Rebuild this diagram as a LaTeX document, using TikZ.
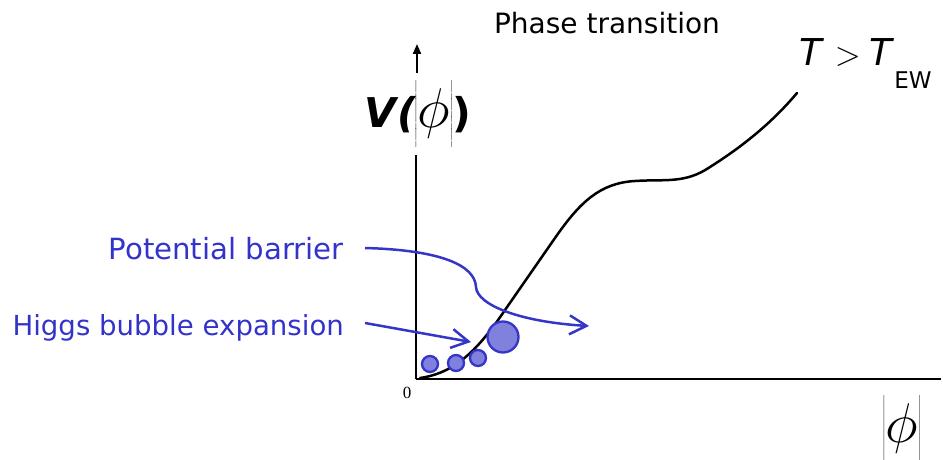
\RequirePackage{fix-cm}
\documentclass[tikz,border=0pt]{standalone}
\usepackage{fontspec}
\setmainfont{DejaVu Sans}
\newfontfamily\serifzero{Liberation Serif}
\usetikzlibrary{arrows.meta}
\definecolor{bltext}{HTML}{3333CC}
\definecolor{blline}{HTML}{3535C8}
\definecolor{blfill}{HTML}{8080DD}
\tikzset{
  axisline/.style={line width=2.2pt, black},
  potcurve/.style={line width=2.5pt, black, line cap=round},
  bluearrow/.style={line width=2.5pt, blline, -{Straight Barb[length=17pt,width=19pt,line width=2.5pt]}},
  bubble/.style={circle, draw=blline, fill=blfill, line width=2.3pt, inner sep=0pt},
  bluelabel/.style={text=bltext, inner sep=0pt, anchor=east},
}
\newcommand{\absphi}{{\fontsize{56}{56}\selectfont$\left|\rule[-19pt]{0pt}{63pt}\phi\right|$}}
\begin{document}
\begin{tikzpicture}[x=1pt,y=-1pt]
\useasboundingbox (0,0) rectangle (943,460);
% axes
\coordinate (O) at (416,379);
\coordinate (xend) at (941,379);
\coordinate (ytop) at (416,155);
\coordinate (arrb) at (417,73);
\coordinate (arrt) at (417,44);
\draw[axisline] (O) -- (xend);
\draw[axisline] (O) -- (ytop);
\draw[line width=2pt, -{Triangle[length=10pt,width=8pt]}] (arrb) -- (arrt);
% labels
\node[font=\fontsize{28}{30}\selectfont, inner sep=0pt] (title) at (607,23) {Phase transition};
\node[inner sep=0pt, font=\fontsize{37}{37}\selectfont, anchor=base west] (temp) at (799,66) {\itshape T\hspace{13pt}{\upshape\fontsize{34}{34}\selectfont$>$}\hspace{9pt}T\hspace{2pt}\upshape\raisebox{-0.6em}{\fontsize{23}{23}\selectfont EW}};
\node[inner sep=0pt] (vlab) at (418,114) {\fontsize{41}{41}\selectfont\bfseries\itshape V\hspace{1pt}(\hspace{-2pt}\mdseries\upshape\absphi\hspace{-1pt}\bfseries)};
\node[inner sep=0pt] (xlab) at (902,428) {\absphi};
\node[inner sep=0pt, font=\serifzero\fontsize{17}{17}\selectfont] (zero) at (407,393) {0};
\node[bluelabel, font=\fontsize{29.2}{31}\selectfont] (pb) at (344,249) {Potential barrier};
\node[bluelabel, font=\fontsize{27.6}{30}\selectfont] (hb) at (344,328) {Higgs bubble expansion};
% potential curve
\draw[potcurve] (420,378) .. controls (455,373) and (478,350) .. (505,310)
  -- (555,238) .. controls (580,202) and (600,183) .. (635,181)
  .. controls (665,179) and (685,184) .. (710,167)
  .. controls (740,148) and (770,125) .. (797,93);
% bubbles
\node[bubble, minimum size=16pt] (b1) at (430,364) {};
\node[bubble, minimum size=16pt] (b2) at (456,363) {};
\node[bubble, minimum size=16pt] (b3) at (478,358) {};
\node[bubble, minimum size=31pt] (b4) at (503,337) {};
% blue arrows
\coordinate (a1s) at (365,248);
\coordinate (a1e) at (589,326);
\coordinate (a2s) at (365,323);
\coordinate (a2e) at (471,342);
\draw[bluearrow] (a1s) .. controls (440,250) and (475,265) .. (476,287)
  .. controls (477,305) and (520,322) .. (a1e);
\draw[bluearrow] (a2s) -- (a2e);
\end{tikzpicture}
\end{document}
